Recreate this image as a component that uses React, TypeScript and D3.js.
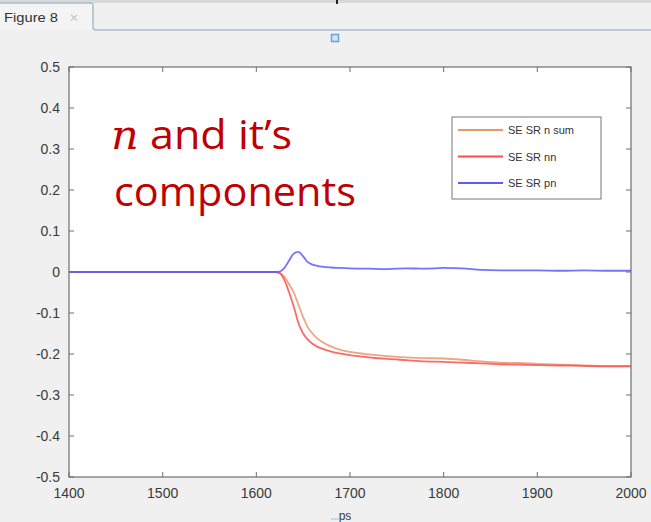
import { scaleLinear, line, curveMonotoneX } from "d3";

const width = 651;
const height = 522;
const MARGIN = { top: 67, right: 20, bottom: 45, left: 69 };
const boundsWidth = width - MARGIN.left - MARGIN.right;
const boundsHeight = height - MARGIN.top - MARGIN.bottom;

// time axis (ps)
const times = [1400, 1500, 1600, 1620, 1625, 1630, 1635, 1640, 1645, 1650, 1655, 1660, 1665, 1670, 1680, 1690, 1700, 1720, 1740, 1760, 1780, 1800, 1820, 1840, 1860, 1880, 1900, 1925, 1950, 1975, 2000];
const nSum = [0, 0, 0, 0, -0.002, -0.012, -0.03, -0.05, -0.08, -0.11, -0.135, -0.15, -0.162, -0.17, -0.182, -0.19, -0.195, -0.201, -0.205, -0.208, -0.21, -0.211, -0.214, -0.218, -0.221, -0.222, -0.224, -0.226, -0.228, -0.229, -0.229];
const nn = [0, 0, 0, 0, -0.003, -0.02, -0.05, -0.085, -0.125, -0.15, -0.165, -0.175, -0.182, -0.187, -0.194, -0.199, -0.203, -0.208, -0.212, -0.215, -0.218, -0.219, -0.221, -0.223, -0.225, -0.226, -0.227, -0.228, -0.229, -0.23, -0.23];
const pn = [0, 0, 0, 0, 0.001, 0.01, 0.028, 0.045, 0.049, 0.038, 0.024, 0.018, 0.015, 0.013, 0.011, 0.01, 0.009, 0.008, 0.007, 0.009, 0.008, 0.01, 0.009, 0.005, 0.004, 0.004, 0.004, 0.003, 0.004, 0.003, 0.003];

const xTicks = [1400, 1500, 1600, 1700, 1800, 1900, 2000];
const yTicks = [0.5, 0.4, 0.3, 0.2, 0.1, 0, -0.1, -0.2, -0.3, -0.4, -0.5];

const seriesNames = ["SE SR n sum", "SE SR nn", "SE SR pn"];
const seriesColors = ["#e8966c", "#ff4d4d", "#5a5aff"];

const tickFont = "'Liberation Sans', Arial, sans-serif";

export default function App() {
  const xScale = scaleLinear().domain([1400, 2000]).range([0, boundsWidth]);
  const yScale = scaleLinear().domain([-0.5, 0.5]).range([boundsHeight, 0]);

  const mk = (vals: number[]) =>
    line<number>()
      .x((_, i) => xScale(times[i]))
      .y((d) => yScale(d))
      .curve(curveMonotoneX)(vals) || "";

  const series = [nSum, nn, pn];

  return (
    <svg
      width={width}
      height={height}
      style={{ position: "absolute", left: 0, top: 0, display: "block" }}
    >
      <rect width={width} height={height} fill="#f0f0f0" />

      {/* figure window tab strip */}
      <rect x={0} y={0} width={width} height={3} fill="#d8d8d8" />
      <rect x={336} y={0} width={2} height={4} fill="#222" />
      <path d="M0,3 H90 Q93,3 93,6 V27 Q93,30 96,30 H651" fill="none" stroke="#a9bccf" strokeWidth={1.5} />
      <rect x={0} y={4} width={92} height={26} fill="#f4f4f4" />
      <text x={4} y={22} fontSize={13} fontFamily={tickFont} fill="#333" textLength={54} lengthAdjust="spacingAndGlyphs">Figure 8</text>
      <text x={69} y={22} fontSize={12} fontFamily={tickFont} fill="#c8c8c8">✕</text>
      <rect x={331.5} y={34.5} width={7} height={7} fill="#cfe6f8" stroke="#6aa2d4" strokeWidth={1.5} />

      <g transform={`translate(${MARGIN.left},${MARGIN.top})`}>
        <rect width={boundsWidth} height={boundsHeight} fill="#fff" />

        {series.map((vals, i) => (
          <path key={i} d={mk(vals)} fill="none" stroke={seriesColors[i]} strokeWidth={1.8} strokeOpacity={0.85} />
        ))}

        {/* axes box */}
        <rect width={boundsWidth} height={boundsHeight} fill="none" stroke="#6e6e6e" strokeWidth={1.2} />

        {xTicks.map((t) => (
          <g key={t}>
            <line x1={xScale(t)} x2={xScale(t)} y1={boundsHeight} y2={boundsHeight - 5} stroke="#6e6e6e" />
            <line x1={xScale(t)} x2={xScale(t)} y1={0} y2={5} stroke="#6e6e6e" />
            <text x={xScale(t)} y={boundsHeight + 21} textAnchor="middle" fontSize={14} fontFamily={tickFont} fill="#3a3a3a">
              {t}
            </text>
          </g>
        ))}
        {yTicks.map((t) => (
          <g key={t}>
            <line x1={0} x2={5} y1={yScale(t)} y2={yScale(t)} stroke="#6e6e6e" />
            <line x1={boundsWidth} x2={boundsWidth - 5} y1={yScale(t)} y2={yScale(t)} stroke="#6e6e6e" />
            <text x={-9} y={yScale(t) + 5} textAnchor="end" fontSize={14} fontFamily={tickFont} fill="#3a3a3a">
              {t}
            </text>
          </g>
        ))}

        {/* legend */}
        <g transform={`translate(${boundsWidth - 179}, 50)`}>
          <rect x={0} y={0} width={149} height={82} fill="#fff" stroke="#777" />
          {seriesNames.map((name, i) => (
            <g key={name} transform={`translate(0, ${13 + i * 26.5})`}>
              <line x1={6} x2={51} y1={0} y2={0} stroke={seriesColors[i]} strokeWidth={2} />
              <text x={56} y={4} fontSize={11} fontFamily={tickFont} fill="#333">{name}</text>
            </g>
          ))}
        </g>
      </g>

      {/* annotation */}
      <g fill="#c00000" fontSize={41} fontFamily="'Open Sans', sans-serif">
        <text x={111} y={149} textLength={181} lengthAdjust="spacingAndGlyphs">
          <tspan fontFamily="'DejaVu Serif', serif" fontStyle="italic">n</tspan>
          <tspan> and it’s</tspan>
        </text>
        <text x={114} y={206} textLength={242} lengthAdjust="spacingAndGlyphs">components</text>
      </g>

      <text x={345} y={520} textAnchor="middle" fontSize={12} fontFamily={tickFont} fill="#3a3a3a">ps</text>
      <line x1={331} x2={339} y1={519} y2={519} stroke="#9cc0e0" />
    </svg>
  );
}
